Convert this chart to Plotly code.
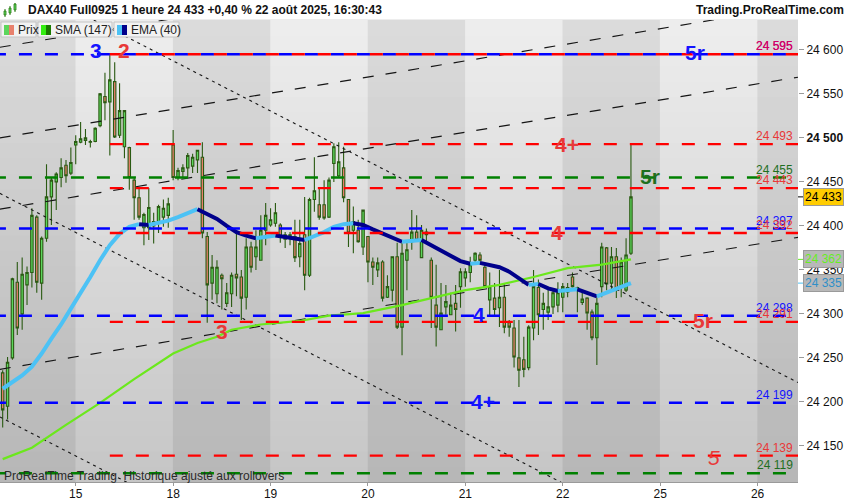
import plotly.graph_objects as go

# ---- data (DAX40 Full0925, 1h bars, 14 -> 22 Aug 2025) ----
bar_open = [24233, 24195, 24250, 24336, 24300, 24333, 24347, 24410, 24335, 24386,
            24433, 24450, 24455, 24469, 24460, 24492, 24495, 24497, 24495, 24496,
            24514, 24547, 24541, 24564, 24503, 24490, 24489, 24452, 24432, 24398,
            24398, 24400, 24405, 24410, 24412, 24492, 24455, 24462, 24466, 24468,
            24475, 24478, 24388, 24335, 24323, 24344, 24312, 24323, 24345, 24342,
            24319, 24376, 24365, 24361, 24395, 24401, 24403, 24401, 24390, 24386,
            24388, 24365, 24390, 24344, 24430, 24424, 24424, 24410, 24471, 24457,
            24466, 24430, 24395, 24395, 24376, 24388, 24359, 24350, 24359, 24319,
            24327, 24365, 24285, 24361, 24382, 24393, 24364, 24393, 24361, 24310,
            24282, 24308, 24299, 24312, 24331, 24341, 24347, 24361, 24367, 24353,
            24316, 24318, 24307, 24319, 24290, 24284, 24250, 24248, 24239, 24284,
            24330, 24305, 24302, 24308, 24310, 24319, 24330, 24342, 24330, 24313,
            24318, 24302, 24273, 24331, 24375, 24335, 24365, 24331, 24327, 24369]
bar_high = [24236, 24251, 24341, 24359, 24364, 24354, 24420, 24412, 24388, 24470,
            24455, 24461, 24477, 24475, 24489, 24503, 24518, 24510, 24498, 24512,
            24551, 24574, 24594, 24586, 24562, 24531, 24490, 24455, 24443, 24415,
            24443, 24415, 24424, 24430, 24432, 24509, 24466, 24470, 24483, 24482,
            24486, 24495, 24393, 24367, 24361, 24346, 24335, 24347, 24392, 24350,
            24386, 24382, 24395, 24412, 24426, 24420, 24426, 24403, 24393, 24393,
            24407, 24407, 24433, 24432, 24478, 24444, 24452, 24455, 24494, 24495,
            24490, 24430, 24422, 24407, 24418, 24388, 24364, 24364, 24361, 24344,
            24365, 24381, 24381, 24381, 24418, 24412, 24401, 24397, 24364, 24356,
            24335, 24333, 24324, 24333, 24352, 24352, 24365, 24370, 24370, 24358,
            24347, 24335, 24350, 24335, 24293, 24293, 24293, 24274, 24287, 24350,
            24339, 24324, 24331, 24327, 24336, 24335, 24335, 24347, 24331, 24324,
            24319, 24305, 24319, 24381, 24376, 24376, 24375, 24364, 24386, 24493]
bar_low = [24171, 24180, 24248, 24276, 24282, 24310, 24330, 24324, 24316, 24382,
           24401, 24418, 24444, 24449, 24458, 24470, 24494, 24492, 24489, 24495,
           24512, 24520, 24480, 24500, 24500, 24477, 24441, 24407, 24407, 24378,
           24384, 24380, 24392, 24399, 24398, 24452, 24452, 24455, 24455, 24460,
           24460, 24386, 24290, 24316, 24312, 24305, 24308, 24308, 24320, 24293,
           24305, 24347, 24350, 24361, 24378, 24399, 24399, 24381, 24375, 24378,
           24359, 24353, 24327, 24342, 24416, 24407, 24407, 24409, 24450, 24455,
           24427, 24376, 24369, 24381, 24367, 24336, 24333, 24342, 24314, 24318,
           24314, 24283, 24253, 24327, 24373, 24382, 24364, 24382, 24284, 24263,
           24282, 24299, 24299, 24280, 24307, 24331, 24336, 24356, 24358, 24331,
           24297, 24297, 24285, 24278, 24274, 24239, 24217, 24228, 24236, 24270,
           24276, 24282, 24293, 24300, 24302, 24302, 24319, 24330, 24302, 24310,
           24282, 24270, 24242, 24319, 24327, 24327, 24318, 24319, 24325, 24367]
bar_close = [24191, 24245, 24340, 24284, 24345, 24347, 24412, 24336, 24386, 24433,
             24452, 24459, 24466, 24457, 24472, 24496, 24499, 24500, 24496, 24511,
             24550, 24540, 24566, 24501, 24531, 24531, 24455, 24432, 24410, 24413,
             24421, 24405, 24422, 24420, 24425, 24455, 24463, 24466, 24480, 24478,
             24486, 24392, 24333, 24353, 24353, 24340, 24324, 24344, 24341, 24318,
             24376, 24353, 24376, 24395, 24412, 24407, 24415, 24388, 24385, 24390,
             24364, 24380, 24344, 24430, 24440, 24410, 24409, 24452, 24490, 24473,
             24432, 24392, 24405, 24382, 24418, 24359, 24353, 24358, 24318, 24331,
             24365, 24285, 24369, 24373, 24393, 24384, 24395, 24390, 24319, 24285,
             24301, 24314, 24310, 24305, 24348, 24348, 24356, 24369, 24361, 24331,
             24331, 24305, 24319, 24285, 24285, 24251, 24236, 24237, 24285, 24331,
             24299, 24312, 24308, 24324, 24324, 24331, 24325, 24331, 24327, 24317,
             24301, 24273, 24312, 24376, 24334, 24365, 24327, 24359, 24367, 24433]
bar_idx = list(range(len(bar_close)))

# SMA(147) and EMA(40) read at a few bar positions
sma_x = [0, 6, 13, 20, 27, 35, 40, 44, 47, 53, 61, 67, 74, 82, 88, 95, 102, 109, 116, 123, 129]
sma_y = [24135, 24148, 24174, 24199, 24226, 24255, 24267, 24274, 24282, 24288, 24292,
         24298, 24301, 24310, 24318, 24327, 24333, 24342, 24352, 24356, 24362]
ema_x = [0, 2, 4, 6, 8, 10, 12, 14, 16, 18, 20, 22, 24, 26, 28, 30, 32, 34, 36, 38, 40,
         42, 44, 46, 48, 50, 52, 54, 56, 58, 60, 62, 64, 66, 68, 70, 72, 74, 76, 78, 80,
         82, 84, 86, 88, 90, 92, 94, 96, 98, 100, 102, 104, 106, 108, 110, 112, 114,
         116, 118, 120, 122, 124, 126, 128, 129]
ema_y = [24215, 24222, 24230, 24240, 24255, 24272, 24288, 24306, 24323, 24342, 24361,
         24378, 24391, 24399, 24402, 24401, 24403, 24406, 24410, 24415, 24419, 24414,
         24408, 24400, 24393, 24389, 24386, 24387, 24389, 24387, 24386, 24384, 24388,
         24393, 24399, 24402, 24403, 24401, 24396, 24391, 24386, 24382, 24383, 24384,
         24378, 24372, 24365, 24360, 24357, 24358, 24356, 24353, 24348, 24341, 24333,
         24334, 24329, 24326, 24327, 24328, 24324, 24320, 24324, 24328, 24333, 24335]

# horizontal levels: (price, colour, first bar)
levels = [(24595, 'blue', -2), (24595, 'red', 22), (24493, 'red', 22),
          (24455, 'green', -2), (24443, 'red', 22), (24397, 'blue', -2),
          (24392, 'red', 22), (24298, 'blue', -2), (24291, 'red', 22),
          (24199, 'blue', -2), (24139, 'red', 22), (24119, 'green', -2)]
level_labels = ['24 595', '24 595', '24 493', '24 455', '24 443', '24 397',
                '24 392', '24 298', '24 291', '24 199', '24 139', '24 119']

# trend lines (bar, price) -> (bar, price)
channel_up = [((-0.6, 24603), (163.3, 24753)), ((-0.6, 24500), (163.3, 24650)),
              ((-0.6, 24419), (163.3, 24569)), ((-0.6, 24237), (163.3, 24387))]
channel_down = [((18.7, 24634), (163.3, 24222)), ((-0.6, 24437), (122.6, 24086)),
                ((-0.6, 24183), (28.2, 24101))]

# wave count labels: text, bar, price, colour
wave_labels = [('3', 19.2, 24599, 'blue'), ('2', 24.9, 24599, 'red'),
               ('5r', 142.2, 24597, 'blue'), ('4+', 115.9, 24493, 'red'),
               ('5r', 133.0, 24456, 'green'), ('4', 113.8, 24393, 'red'),
               ('4', 97.8, 24299, 'blue'), ('3', 45.0, 24280, 'red'),
               ('5r', 143.8, 24292, 'red'), ('4+', 98.6, 24201, 'blue'),
               ('5', 146.0, 24137, 'red')]

day_ticks = [15, 35, 55, 75, 95, 115, 135, 155]
day_labels = ['15', '18', '19', '20', '21', '22', '25', '26']
price_ticks = [24150, 24200, 24250, 24300, 24350, 24400, 24450, 24500, 24550, 24600]
price_labels = ['24 150', '24 200', '24 250', '24 300', '24 350', '24 400', '24 450',
                '<b>24 500</b>', '24 550', '24 600']

last_price = 24433
sma_last = 24362
ema_last = 24335

# ---- styling ----
FONT = 'Arial, Liberation Sans, sans-serif'
COL = {'blue': '#0000ff', 'red': '#ff0000', 'green': '#008000'}
TXT = {'blue': '#1414ff', 'red': '#e83838', 'green': '#1f6f1f'}
X_RANGE = [-0.55, 163.3]
Y_RANGE = [24109, 24634]
W_PLOT, H_PLOT, TOP, BOT = 798, 462, 20, 482


def px(x):
    return x / W_PLOT


def py(y):
    return (BOT - y) / H_PLOT


fig = go.Figure()
annotations = []
shapes = []

# background: vertical grey gradient, darker band every other day
n_strips = 30
for k in range(n_strips):
    t = k / (n_strips - 1)
    g = int(round(198 + (237 - 198) * t))
    shapes.append(dict(type='rect', xref='paper', yref='paper', x0=0, x1=1,
                       y0=k / n_strips, y1=(k + 1) / n_strips + 0.002,
                       fillcolor='rgb(%d,%d,%d)' % (g, g, g), line_width=0, layer='below'))
edges = [-5] + day_ticks + [175]
for i in range(0, len(edges) - 1, 2):
    shapes.append(dict(type='rect', xref='x', yref='paper', x0=edges[i] - 0.05,
                       x1=edges[i + 1] - 0.05, y0=0, y1=1,
                       fillcolor='rgba(0,0,0,0.075)', line_width=0, layer='below'))

# trend channels
for (a, b) in channel_up:
    fig.add_trace(go.Scatter(x=[a[0], b[0]], y=[a[1], b[1]], mode='lines',
                             line=dict(color='#151515', width=1.1, dash='11px,12px'),
                             hoverinfo='skip', showlegend=False))
for (a, b) in channel_down:
    fig.add_trace(go.Scatter(x=[a[0], b[0]], y=[a[1], b[1]], mode='lines',
                             line=dict(color='#151515', width=1.1, dash='3px,4px'),
                             hoverinfo='skip', showlegend=False))

# candles
fig.add_trace(go.Candlestick(
    x=bar_idx, open=bar_open, high=bar_high, low=bar_low, close=bar_close,
    increasing=dict(fillcolor='#5cd65c', line=dict(color='#2a5a12', width=1.1)),
    decreasing=dict(fillcolor='#e8806c', line=dict(color='#2a5a12', width=1.1)),
    whiskerwidth=0, hoverinfo='skip', showlegend=False))

# SMA 147
fig.add_trace(go.Scatter(x=sma_x, y=sma_y, mode='lines',
                         line=dict(color='#6be81c', width=2.2),
                         hoverinfo='skip', showlegend=False))

# EMA 40 : light blue while rising, navy while falling
runs = []
for i in range(len(ema_y) - 1):
    up = ema_y[i + 1] >= ema_y[i]
    if runs and runs[-1][0] == up:
        runs[-1][1].append(i + 1)
    else:
        runs.append([up, [i, i + 1]])
for up, pts in runs:
    fig.add_trace(go.Scatter(x=[ema_x[k] for k in pts], y=[ema_y[k] for k in pts],
                             mode='lines',
                             line=dict(color='#4cc2f5' if up else '#00008b', width=4),
                             hoverinfo='skip', showlegend=False))

# horizontal levels
for price, col, start in levels:
    fig.add_trace(go.Scatter(x=[start, 175], y=[price, price], mode='lines',
                             line=dict(color=COL[col], width=2.4, dash='13px,13px'),
                             hoverinfo='skip', showlegend=False))

for (price, col, _), lab in zip(levels, level_labels):
    c = '#d0006a' if price == 24595 else TXT[col]
    annotations.append(dict(x=px(795), xref='paper', y=price, yref='y', text=lab,
                            xanchor='right', yanchor='bottom', yshift=-1,
                            showarrow=False, font=dict(family=FONT, size=12, color=c)))

for text, bx, price, col in wave_labels:
    t = '<i>%s</i>' % text if text == '5' else '<b>%s</b>' % text
    annotations.append(dict(x=bx, y=price, text=t, showarrow=False,
                            font=dict(family=FONT, size=21, color=TXT[col])))

# value boxes on the price scale
for val, bg, fg, tick in [(last_price, '#ffcc00', '#000000', '#000000'),
                          (sma_last, '#b8b8b8', '#66ee22', '#66ee22'),
                          (ema_last, '#b8b8b8', '#2f8fc8', '#4cc2f5')]:
    lab = '{:,}'.format(val).replace(',', ' ')
    annotations.append(dict(x=px(803), xref='paper', y=val, yref='y', text=lab,
                            xanchor='left', yanchor='middle', showarrow=False,
                            bgcolor=bg, bordercolor='#9a9a9a', borderwidth=1, borderpad=1,
                            font=dict(family=FONT, size=12, color=fg)))
    shapes.append(dict(type='line', xref='paper', yref='y', x0=1, x1=px(803),
                       y0=val, y1=val, line=dict(color=tick, width=1)))

# title bar
annotations.append(dict(x=px(26), xref='paper', y=py(10), yref='paper',
                        text='<b>DAX40 Full0925 1 heure 24 433 +0,40 % 22 août 2025, 16:30:43</b>',
                        xanchor='left', yanchor='middle', showarrow=False,
                        font=dict(family=FONT, size=12, color='#111')))
annotations.append(dict(x=px(846), xref='paper', y=py(10), yref='paper',
                        text='<b>Trading.ProRealTime.com</b>',
                        xanchor='right', yanchor='middle', showarrow=False,
                        font=dict(family=FONT, size=12, color='#111')))
for (x0, x1, y0, y1, w0, w1) in [(4, 6, 11, 15, 9, 17), (9, 11, 8, 13, 6, 15),
                                 (14, 16, 4, 10, 3, 12)]:
    shapes.append(dict(type='line', xref='paper', yref='paper', x0=px((x0 + x1) / 2),
                       x1=px((x0 + x1) / 2), y0=py(w0), y1=py(w1),
                       line=dict(color='#2a7a12', width=1)))
    shapes.append(dict(type='rect', xref='paper', yref='paper', x0=px(x0), x1=px(x1),
                       y0=py(y0), y1=py(y1), fillcolor='#5cd65c',
                       line=dict(color='#2a7a12', width=0.8)))

# indicator chips
for (x0, x1, c1, c2, name) in [(1, 36, '#5cd65c', '#e8806c', 'Prix'),
                               (38, 112, '#33ee11', '#1a7a00', 'SMA (147)'),
                               (114, 179, '#4cc2f5', '#00008b', 'EMA (40)')]:
    shapes.append(dict(type='rect', xref='paper', yref='paper', x0=px(x0), x1=px(x1),
                       y0=py(37), y1=py(22), fillcolor='#f2f2f2',
                       line=dict(color='#c4c4c4', width=1)))
    shapes.append(dict(type='rect', xref='paper', yref='paper', x0=px(x0 + 3),
                       x1=px(x0 + 8), y0=py(35), y1=py(25), fillcolor=c1, line_width=0))
    shapes.append(dict(type='rect', xref='paper', yref='paper', x0=px(x0 + 8),
                       x1=px(x0 + 13), y0=py(35), y1=py(25), fillcolor=c2, line_width=0))
    annotations.append(dict(x=px(x0 + 15), xref='paper', y=py(30), yref='paper',
                            text=name, xanchor='left', yanchor='middle', showarrow=False,
                            font=dict(family=FONT, size=12, color='#222')))

annotations.append(dict(x=px(2), xref='paper', y=py(476), yref='paper',
                        text='ProRealTime Trading  Historique ajusté aux rollovers',
                        xanchor='left', yanchor='middle', showarrow=False,
                        font=dict(family=FONT, size=12, color='#2a2a2a')))

fig.update_layout(
    width=850, height=500,
    margin=dict(l=0, r=850 - W_PLOT, t=TOP, b=500 - BOT),
    paper_bgcolor='white', plot_bgcolor='#d0d0d0',
    font=dict(family=FONT, size=12, color='#000'),
    showlegend=False,
    annotations=annotations, shapes=shapes,
    xaxis=dict(range=X_RANGE, tickvals=day_ticks, ticktext=day_labels,
               showgrid=False, zeroline=False, showline=True, linecolor='#9a9a9a',
               ticks='outside', ticklen=3, tickcolor='#9a9a9a', automargin=False,
               ticklabelstandoff=-2,
               tickfont=dict(family=FONT, size=12, color='#111'),
               rangeslider=dict(visible=False)),
    yaxis=dict(range=Y_RANGE, side='right', tickvals=price_ticks, ticktext=price_labels,
               showgrid=False, zeroline=False, showline=False, automargin=False,
               ticks='outside', ticklen=5, tickcolor='#9a9a9a',
               tickfont=dict(family=FONT, size=12, color='#111')),
)

fig.write_html('out.html', config={'displayModeBar': False},
               post_script="document.body.style.margin='0';")
